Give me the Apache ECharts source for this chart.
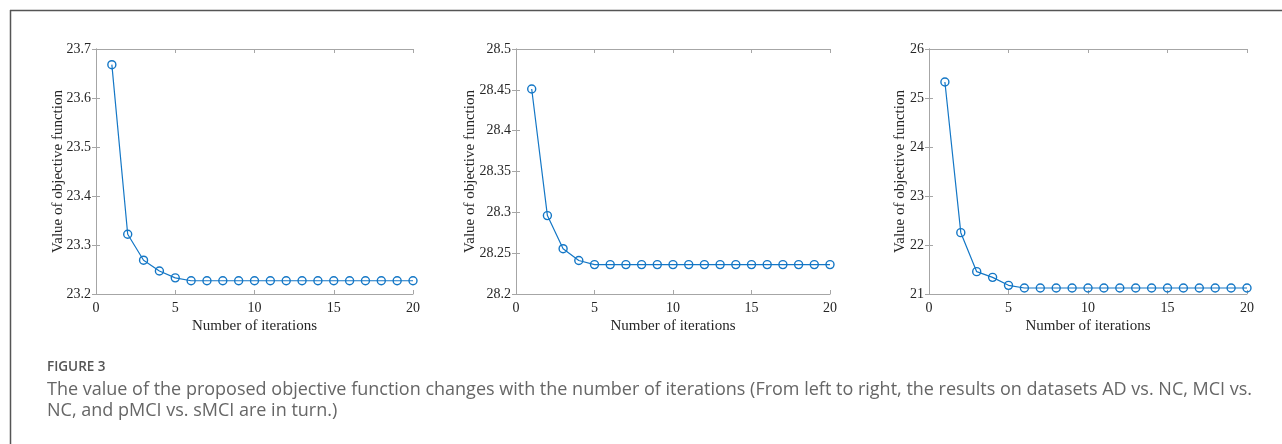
<!DOCTYPE html>
<html>
<head>
<meta charset="utf-8">
<script src="https://cdn.jsdelivr.net/npm/echarts@6/dist/echarts.min.js"></script>
<style>
html,body{margin:0;padding:0;background:#fff;}
#main{width:1282px;height:444px;}
</style>
</head>
<body>
<div id="main"></div>
<script>
// ---- Data ----
const iterations = [1,2,3,4,5,6,7,8,9,10,11,12,13,14,15,16,17,18,19,20];
const adNcValues = [23.668,23.322,23.269,23.247,23.233,23.227,23.227,23.227,23.227,23.227,23.227,23.227,23.227,23.227,23.227,23.227,23.227,23.227,23.227,23.227];
const mciNcValues = [28.451,28.296,28.2555,28.241,28.236,28.236,28.236,28.236,28.236,28.236,28.236,28.236,28.236,28.236,28.236,28.236,28.236,28.236,28.236,28.236];
const pmciSmciValues = [25.327,22.252,21.456,21.340,21.177,21.122,21.122,21.122,21.122,21.122,21.122,21.122,21.122,21.122,21.122,21.122,21.122,21.122,21.122,21.122];
const xTicks = {min: 0, max: 20, interval: 5};
const yTicks1 = {min: 23.2, max: 23.7, interval: 0.1};
const yTicks2 = {min: 28.2, max: 28.5, interval: 0.05};
const yTicks3 = {min: 21, max: 26, interval: 1};
const xTitle = 'Number of iterations';
const yTitle = 'Value of objective function';
const figureLabel = 'FIGURE 3';
const captionLine1 = 'The value of the proposed objective function changes with the number of iterations (From left to right, the results on datasets AD vs. NC, MCI vs.';
const captionLine2 = 'NC, and pMCI vs. sMCI are in turn.)';

// ---- Styles ----
const serif = 'Liberation Serif';
const boxColor = '#a6a6a6';
const labelColor = '#262626';
const lineColor = '#1477c6';

const grids = [
  {left: 96, top: 49, width: 317, height: 245},
  {left: 516, top: 49, width: 314, height: 245},
  {left: 929, top: 49, width: 318, height: 245}
];
const yScales = [yTicks1, yTicks2, yTicks3];
const seriesData = [adNcValues, mciNcValues, pmciSmciValues];
const nameGaps = [30.5, 38.5, 21.5];

const xAxes = [], yAxes = [], series = [];
grids.forEach((g, i) => {
  const common = {
    axisLine: {show: true, lineStyle: {color: boxColor, width: 1}},
    axisTick: {show: true, inside: true, length: 4, lineStyle: {color: boxColor}},
    splitLine: {show: false}
  };
  xAxes.push(Object.assign({
    type: 'value', gridIndex: i, position: 'bottom',
    min: xTicks.min, max: xTicks.max, interval: xTicks.interval,
    name: xTitle, nameLocation: 'middle', nameGap: 25, nameMoveOverlap: false,
    nameTextStyle: {fontFamily: serif, fontSize: 15, color: labelColor},
    axisLabel: {fontFamily: serif, fontSize: 14, color: labelColor, margin: 7}
  }, common));
  xAxes.push(Object.assign({
    type: 'value', gridIndex: i, position: 'top',
    min: xTicks.min, max: xTicks.max, interval: xTicks.interval,
    axisLabel: {show: false}
  }, common));
  const ys = yScales[i];
  yAxes.push(Object.assign({
    type: 'value', gridIndex: i, position: 'left',
    min: ys.min, max: ys.max, interval: ys.interval,
    name: yTitle, nameLocation: 'middle', nameGap: nameGaps[i], nameMoveOverlap: false,
    nameTextStyle: {fontFamily: serif, fontSize: 15, color: labelColor},
    axisLabel: {fontFamily: serif, fontSize: 14, color: labelColor, margin: 5,
      formatter: v => String(parseFloat(v.toFixed(3)))}
  }, common));
  yAxes.push(Object.assign({
    type: 'value', gridIndex: i, position: 'right',
    min: ys.min, max: ys.max, interval: ys.interval,
    axisLabel: {show: false}
  }, common));
  series.push({
    type: 'line',
    xAxisIndex: i * 2, yAxisIndex: i * 2,
    data: iterations.map((x, k) => [x, seriesData[i][k]]),
    symbol: 'circle', symbolSize: 8, showSymbol: true,
    lineStyle: {color: lineColor, width: 1.2},
    itemStyle: {color: 'rgba(255,255,255,0)', borderColor: lineColor, borderWidth: 1.4},
    emphasis: {disabled: true},
    z: 3
  });
});

const chart = echarts.init(document.getElementById('main'), null, {renderer: 'canvas'});
chart.setOption({
  animation: false,
  backgroundColor: '#fff',
  grid: grids.map(g => Object.assign({show: false}, g)),
  xAxis: xAxes,
  yAxis: yAxes,
  series: series,
  graphic: [
    {type: 'line', shape: {x1: 10, y1: 10.5, x2: 1282, y2: 10.5}, style: {stroke: '#555', lineWidth: 1.5}},
    {type: 'line', shape: {x1: 10.5, y1: 10, x2: 10.5, y2: 444}, style: {stroke: '#555', lineWidth: 1.5}},
    {type: 'text', left: 47, top: 360, style: {text: figureLabel, fontFamily: 'Open Sans', fontWeight: 600, fontSize: 13.5, fill: '#555'}},
    {type: 'text', left: 47, top: 381, style: {text: captionLine1, fontFamily: 'Open Sans', fontSize: 18, fill: '#666'}},
    {type: 'text', left: 47, top: 402, style: {text: captionLine2, fontFamily: 'Open Sans', fontSize: 18, fill: '#666'}}
  ]
});
</script>
</body>
</html>
